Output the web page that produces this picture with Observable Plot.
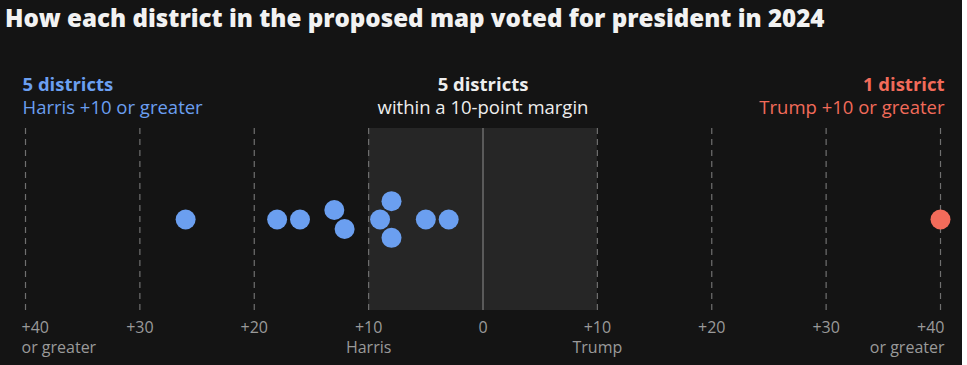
<!DOCTYPE html>
<html>
<head>
<meta charset="utf-8">
<script src="https://cdn.jsdelivr.net/npm/d3@7"></script>
<script src="https://cdn.jsdelivr.net/npm/@observablehq/plot@0.6"></script>
<style>
  body { margin: 0; background: #ffffff; }
  #wrap { width: 962px; height: 365px; background: #141414; position: relative; overflow: hidden; font-family: "Open Sans", "Liberation Sans", Arial, sans-serif; }
  #title { position: absolute; left: 5px; top: 1px; font-size: 22px; font-weight: 800; color: #f2f2f2; white-space: nowrap; font-family: "Open Sans", "Liberation Sans", sans-serif; }
  #chart { position: absolute; left: 0; top: 40px; }
</style>
</head>
<body>
<div id="wrap">
  <div id="title">How each district in the proposed map voted for president in 2024</div>
  <div id="chart"></div>
</div>
<script>
// Margin in points: negative = Harris lead, positive = Trump lead (40 = "+40 or greater")
const margins = [-26, -18, -16, -13, -12.1, -9, -8, -8, -5, -3, 40];
const tickValues = [-40, -30, -20, -10, 0, 10, 20, 30, 40];
const tickLabels = ["+40", "+30", "+20", "+10", "0", "+10", "+20", "+30", "+40"];
const tickSubLabels = ["or greater", "", "", "Harris", "", "Trump", "", "", "or greater"];
const blue = "#6b9ff0";
const red = "#f26b5a";
const FONT = "Open Sans, Liberation Sans, Arial, sans-serif";

// fit title to the reference width
(function () {
  const t = document.getElementById("title");
  const w = t.getBoundingClientRect().width;
  const target = 820;
  t.style.fontSize = (22 * target / w).toFixed(2) + "px";
})();

const W = 962, H = 325;
const mL = 25, mR = 22, mT = 88, mB = 55;
const R = 10;

// Beeswarm layout (y offsets in px) via d3-force, x fixed to scale
const xs = d3.scaleLinear([-40, 40], [mL, W - mR]);
const nodes = margins.map((v, i) => ({ v, i, fx: xs(v), x: xs(v), y: 0 }));
const sim = d3.forceSimulation(nodes)
  .force("y", d3.forceY(0).strength(0.06))
  .force("collide", d3.forceCollide(R + 0.8).iterations(3))
  .stop();
for (let k = 0; k < 400; ++k) sim.tick();

const nHarris = margins.filter(v => v <= -10).length;
const nClose = margins.filter(v => v > -10 && v < 10).length;
const nTrump = margins.filter(v => v >= 10).length;
const plural = n => n === 1 ? "district" : "districts";

const ticks = tickValues.map((v, i) => ({ v, label: tickLabels[i], sub: tickSubLabels[i] }));
const half = (H - mT - mB) / 2;
const tickStyle = { x: "v", frameAnchor: "bottom", dy: 8, lineAnchor: "top", lineHeight: 1.25, fill: "#9a9a9a", fontSize: 16 };
const hdr = { frameAnchor: "top", lineAnchor: "middle", fontSize: 18.5 };

const plot = Plot.plot({
  width: W,
  height: H,
  marginLeft: mL,
  marginRight: mR,
  marginTop: mT,
  marginBottom: mB,
  style: { background: "transparent", fontFamily: FONT, overflow: "visible" },
  x: { domain: [-40, 40], axis: null },
  y: { domain: [-half, half], axis: null, reverse: true },
  marks: [
    Plot.rect([{ a: -10, b: 10 }], { x1: "a", x2: "b", fill: "#262626" }),
    Plot.ruleX(tickValues.filter(v => v !== 0), { stroke: "#707070", strokeWidth: 1.2, strokeDasharray: "6,5" }),
    Plot.ruleX([0], { stroke: "#5a5a5a", strokeWidth: 2 }),
    Plot.dot(nodes, { x: "v", y: "y", r: R, fill: d => d.v > 0 ? red : blue, stroke: "none" }),
    // tick labels
    Plot.text(ticks.slice(1, -1), { ...tickStyle, text: d => d.sub ? d.label + "\n" + d.sub : d.label }),
    Plot.text(ticks.slice(0, 1), { ...tickStyle, dx: -4, textAnchor: "start", text: d => d.label + "\n" + d.sub }),
    Plot.text(ticks.slice(-1), { ...tickStyle, dx: 4, textAnchor: "end", text: d => d.label + "\n" + d.sub }),
    // headers
    Plot.text([-40], { ...hdr, x: d => d, dy: -43, dx: -3, text: () => `${nHarris} ${plural(nHarris)}`, textAnchor: "start", fill: blue, fontWeight: 700 }),
    Plot.text([-40], { ...hdr, x: d => d, dy: -20, dx: -3, text: () => "Harris +10 or greater", textAnchor: "start", fill: blue }),
    Plot.text([0], { ...hdr, x: d => d, dy: -43, text: () => `${nClose} ${plural(nClose)}`, fill: "#eeeeee", fontWeight: 700 }),
    Plot.text([0], { ...hdr, x: d => d, dy: -20, text: () => "within a 10-point margin", fill: "#eeeeee" }),
    Plot.text([40], { ...hdr, x: d => d, dy: -43, dx: 4, text: () => `${nTrump} ${plural(nTrump)}`, textAnchor: "end", fill: red, fontWeight: 700 }),
    Plot.text([40], { ...hdr, x: d => d, dy: -20, dx: 4, text: () => "Trump +10 or greater", textAnchor: "end", fill: red })
  ]
});
document.getElementById("chart").appendChild(plot);
</script>
</body>
</html>
